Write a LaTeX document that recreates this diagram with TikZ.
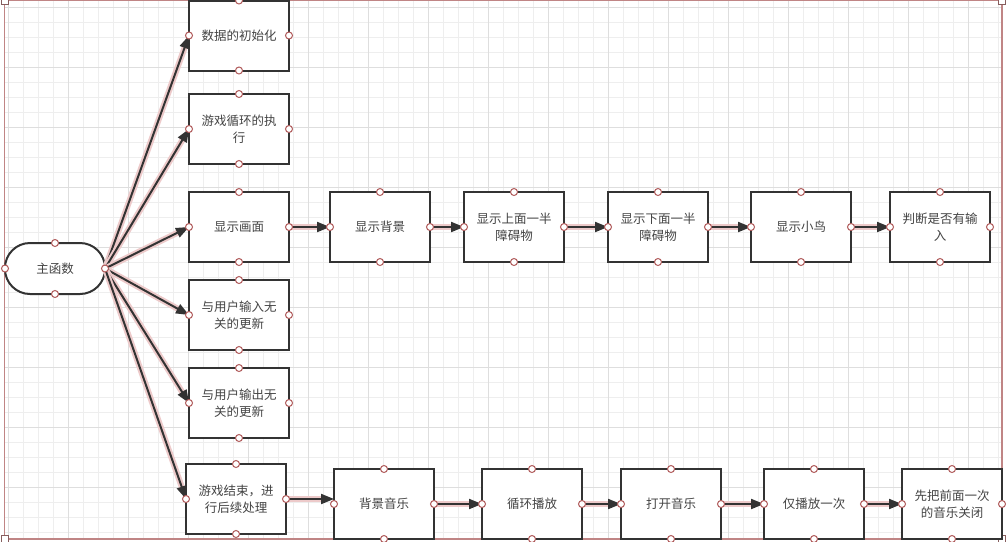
\documentclass[tikz,border=0pt]{standalone}
\usepackage{fontspec}
\newfontfamily\cjk{Noto Sans CJK SC}
\usetikzlibrary{arrows.meta}
\definecolor{linegray}{HTML}{333333}
\definecolor{textgray}{HTML}{444444}
\definecolor{glowpink}{HTML}{EDCACA}
\definecolor{portred}{HTML}{B05A5A}
\definecolor{gridminor}{HTML}{EEEEEE}
\definecolor{gridmajor}{HTML}{DEDEDE}
\definecolor{pageline}{HTML}{C08585}

\begin{document}
\begin{tikzpicture}[x=1pt,y=-1pt,
    box/.style={draw=linegray,line width=2pt,fill=white,rectangle,outer sep=0pt,inner sep=0pt,
        minimum width=100pt,minimum height=70pt,align=center,text=textgray,
        font=\cjk\fontsize{12.5}{17}\selectfont},
    startbox/.style={box,rounded corners=25pt,minimum height=51pt},
    flow/.style={draw=linegray,line width=2pt,-{Triangle[length=13pt,width=10pt]}},
    glow/.style={draw=glowpink,line width=6pt,shorten >=12pt,shorten <=3pt},
    port/.style={circle,draw=portred,fill=white,line width=1pt,minimum size=7pt,inner sep=0pt}]
    \useasboundingbox (0,0) rectangle (1006,541);
    \fill[white] (0,0) rectangle (1006,541);
    % background grid
    \begin{scope}
        \clip (4.5,0.5) rectangle (1002,539);
        \foreach \gx in {8,23,...,1010} \draw[gridminor,line width=1pt] (\gx,0) -- (\gx,541);
        \foreach \gy in {7,22,...,545} \draw[gridminor,line width=1pt] (0,\gy) -- (1006,\gy);
        \foreach \gx in {8,68,...,1010} \draw[gridmajor,line width=1pt] (\gx,0) -- (\gx,541);
        \foreach \gy in {7,67,...,545} \draw[gridmajor,line width=1pt] (0,\gy) -- (1006,\gy);
    \end{scope}
    \draw[pageline,line width=1.2pt] (4.5,0.5) rectangle (1002,539);
    \foreach \cx/\cy in {4.5/0.5,1002/0.5,4.5/539,1002/539}
        \draw[pageline!70!black,fill=white,line width=1pt] (\cx-3.5,\cy-3.5) rectangle (\cx+3.5,\cy+3.5);

    % main function and its branches
    \node (main) [startbox] at (55,268.5) {主函数};
    \node (init) [box] at (239,35.5) {数据的初始化};
    \node (loop) [box] at (239,129) {游戏循环的执\\行};
    \node (show) [box] at (239,227) {显示画面};
    \node (inupd) [box] at (239,315) {与用户输入无\\关的更新};
    \node (outupd) [box] at (239,403) {与用户输出无\\关的更新};
    \node (over) [box] at (236,499) {游戏结束，进\\行后续处理};

    % drawing chain
    \node (bg) [box] at (380,227) {显示背景};
    \node (upper) [box] at (514,227) {显示上面一半\\障碍物};
    \node (lower) [box] at (658,227) {显示下面一半\\障碍物};
    \node (bird) [box] at (801,227) {显示小鸟};
    \node (input) [box] at (940,227) {判断是否有输\\入};

    % music chain
    \node (music) [box] at (384,504) {背景音乐};
    \node (cycle) [box] at (532,504) {循环播放};
    \node (open) [box] at (671,504) {打开音乐};
    \node (once) [box] at (814,504) {仅播放一次};
    \node (close) [box] at (952,504) {先把前面一次\\的音乐关闭};

    \foreach \a/\b in {main/init,main/loop,main/show,main/inupd,main/outupd,main/over,
            show/bg,bg/upper,upper/lower,lower/bird,bird/input,
            music/cycle,cycle/open,open/once,once/close} {
        \draw[glow] (\a.east) -- (\b.west);
        \draw[flow] (\a.east) -- (\b.west);
    }
    \draw[glow] (over.east) -- (over.east -| music.west);
    \draw[flow] (over.east) -- (over.east -| music.west);

    % connection points
    \foreach \n in {main,init,loop,show,inupd,outupd,over,bg,upper,lower,bird,input,
            music,cycle,open,once,close}
        \foreach \s in {north,south,east,west}
            \node (\n-\s) [port] at (\n.\s) {};
\end{tikzpicture}
\end{document}
